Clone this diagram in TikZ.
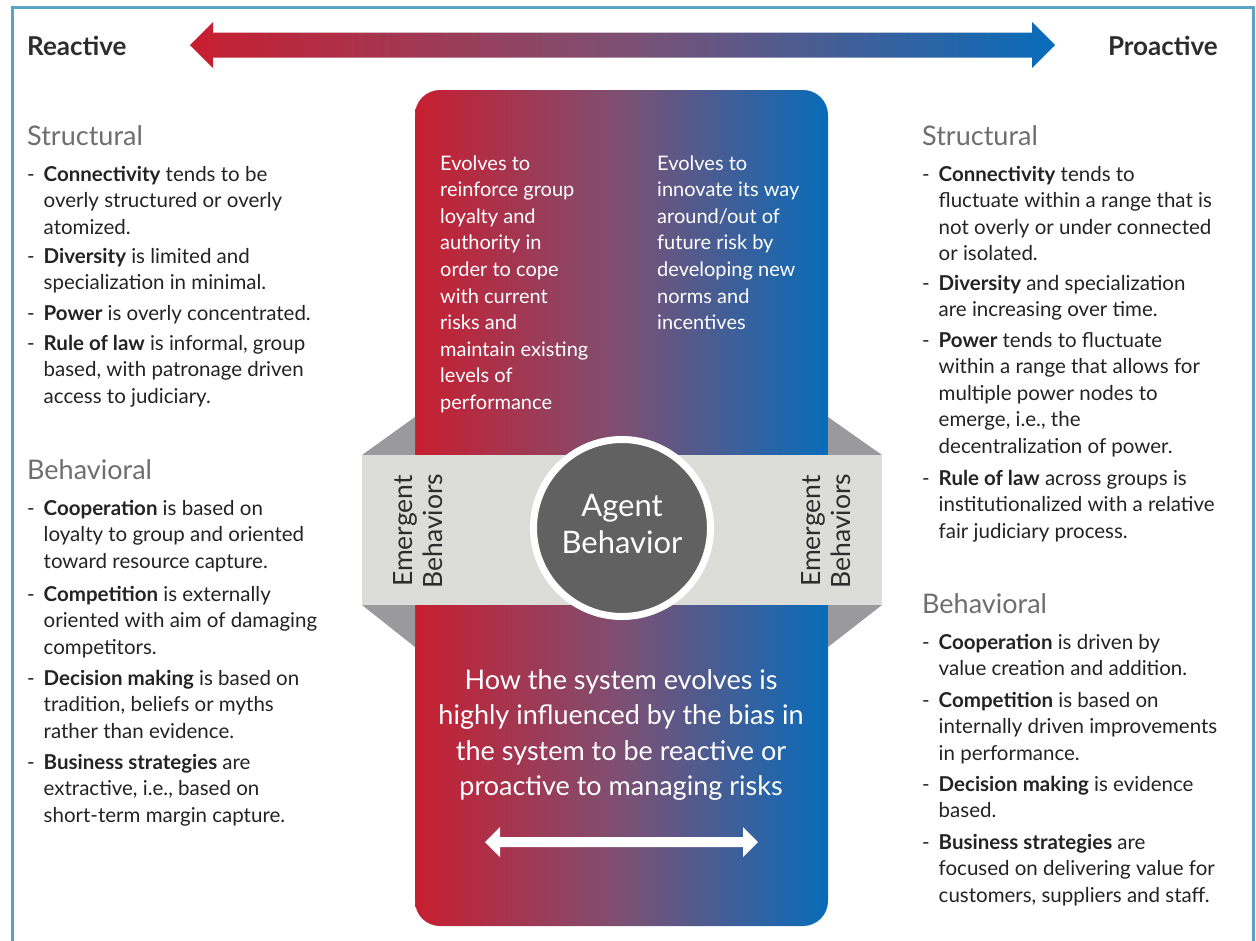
\documentclass[tikz,border=0pt]{standalone}
\usepackage{fontspec}
\setmainfont{Lato}
\definecolor{framecol}{RGB}{90,163,198}
\definecolor{reactred}{RGB}{200,30,48}
\definecolor{problue}{RGB}{8,108,186}
\definecolor{midpurple}{RGB}{125,80,115}
\definecolor{bandgrey}{RGB}{220,220,217}
\definecolor{bevelgrey}{RGB}{154,154,156}
\definecolor{circgrey}{RGB}{97,97,97}
\definecolor{headcol}{RGB}{110,110,110}
\definecolor{bodycol}{RGB}{35,35,35}
\definecolor{titlecol}{RGB}{45,45,45}
\newcommand{\bul}[1]{\begin{tabular}[t]{@{}p{16.5pt}@{}l@{}}-&#1\end{tabular}}
\newcommand{\lines}[1]{\begin{tabular}[t]{@{}l@{}}#1\end{tabular}}
\newcommand{\clines}[1]{\begin{tabular}[t]{@{}c@{}}#1\end{tabular}}
\newcommand{\mlines}[1]{\begin{tabular}{@{}c@{}}#1\end{tabular}}
\begin{document}
\begin{tikzpicture}[x=1pt,y=-1pt,
  title/.style={anchor=base west, inner sep=0, text=titlecol, font=\fontsize{26}{30}\selectfont\bfseries},
  head/.style={anchor=base west, inner sep=0, text=headcol, font=\fontsize{27}{30}\selectfont},
  itm/.style={anchor=base west, inner sep=0, text=bodycol, font=\fontsize{20.5}{26.5}\selectfont},
  ctr/.style={anchor=base west, inner sep=0, text=white, font=\fontsize{20}{26.6}\selectfont},
  emerg/.style={rotate=90, inner sep=0, text=titlecol, font=\fontsize{26.5}{30}\selectfont},
]
\useasboundingbox (0,0) rectangle (1256,940);
\fill[white] (0,0) rectangle (1256,940);
% frame
\draw[framecol, line width=3] (12,945) -- (12,7) -- (1253,7) -- (1253,945);
% top arrow
\shade[left color=reactred, right color=problue, middle color=midpurple]
  (190,45) -- (213,22) -- (213,32.5) -- (1032,32.5) -- (1032,22) -- (1055,45)
  -- (1032,68) -- (1032,57.5) -- (213,57.5) -- (213,68) -- cycle;
\node[title] (reactive) at (27,55) {Reactive};
\node[title, anchor=base east] (proactive) at (1218,55) {Proactive};
% central panel
\shade[rounded corners=25, left color=reactred, right color=problue, middle color=midpurple]
  (415,90) rectangle (828,926);
% bevels
\fill[bevelgrey] (362,455) -- (415,417) -- (415,455) -- cycle;
\fill[bevelgrey] (362,605) -- (415,605) -- (415,647) -- cycle;
\fill[bevelgrey] (828,417) -- (882,455) -- (828,455) -- cycle;
\fill[bevelgrey] (828,605) -- (882,605) -- (828,647) -- cycle;
% band
\fill[bandgrey] (362,455) rectangle (882,605);
\node[emerg] (emL) at (421,531) {\mlines{Emergent\\Behaviors}};
\node[emerg] (emR) at (829,531) {\mlines{Emergent\\Behaviors}};
% circle
\node[circle, fill=circgrey, draw=white, line width=7, minimum size=177, inner sep=0,
  text=white, font=\fontsize{31}{37}\selectfont] (agent) at (622,528) {\mlines{Agent\\Behavior}};
% center texts
\node[ctr] (cl) at (440,170) {\lines{Evolves to\\reinforce group\\loyalty and\\authority in\\order to cope\\with current\\risks and\\maintain existing\\levels of\\performance}};
\node[ctr] (cr) at (657,170) {\lines{Evolves to\\innovate its way\\around/out of\\future risk by\\developing new\\norms and\\incentives}};
\node[anchor=base, inner sep=0, text=white, font=\fontsize{27}{35.5}\selectfont] (bottomtext) at (621,689)
  {\clines{How the system evolves is\\highly influenced by the bias in\\the system to be reactive or\\proactive to managing risks}};
\fill[white] (485,842) -- (500,827) -- (500,837) -- (743,837) -- (743,827) -- (758,842)
  -- (743,857) -- (743,847) -- (500,847) -- (500,857) -- cycle;
% left column
\node[head] (lstruct) at (27,145) {Structural};
\node[itm] (l1) at (27,181) {\bul{\textbf{Connectivity} tends to be\\&overly structured or overly\\&atomized.}};
\node[itm] (l2) at (27,263) {\bul{\textbf{Diversity} is limited and\\&specialization in minimal.}};
\node[itm] (l3) at (27,320) {\bul{\textbf{Power} is overly concentrated.}};
\node[itm] (l4) at (27,350) {\bul{\textbf{Rule of law} is informal, group\\&based, with patronage driven\\&access to judiciary.}};
\node[head] (lbehav) at (27,479) {Behavioral};
\node[itm] (l5) at (27,515) {\bul{\textbf{Cooperation} is based on\\&loyalty to group and oriented\\&toward resource capture.}};
\node[itm] (l6) at (27,601) {\bul{\textbf{Competition} is externally\\&oriented with aim of damaging\\&competitors.}};
\node[itm] (l7) at (27,685) {\bul{\textbf{Decision making} is based on\\&tradition, beliefs or myths\\&rather than evidence.}};
\node[itm] (l8) at (27,769) {\bul{\textbf{Business strategies} are\\&extractive, i.e., based on\\&short-term margin capture.}};
% right column
\node[head] (rstruct) at (922,145) {Structural};
\node[itm] (r1) at (922,181) {\bul{\textbf{Connectivity} tends to\\&fluctuate within a range that is\\&not overly or under connected\\&or isolated.}};
\node[itm] (r2) at (922,290) {\bul{\textbf{Diversity} and specialization\\&are increasing over time.}};
\node[itm] (r3) at (922,347) {\bul{\textbf{Power} tends to fluctuate\\&within a range that allows for\\&multiple power nodes to\\&emerge, i.e., the\\&decentralization of power.}};
\node[itm] (r4) at (922,485) {\bul{\textbf{Rule of law} across groups is\\&institutionalized with a relative\\&fair judiciary process.}};
\node[head] (rbehav) at (922,613) {Behavioral};
\node[itm] (r5) at (922,649) {\bul{\textbf{Cooperation} is driven by\\&value creation and addition.}};
\node[itm] (r6) at (922,707) {\bul{\textbf{Competition} is based on\\&internally driven improvements\\&in performance.}};
\node[itm] (r7) at (922,791) {\bul{\textbf{Decision making} is evidence\\&based.}};
\node[itm] (r8) at (922,849) {\bul{\textbf{Business strategies} are\\&focused on delivering value for\\&customers, suppliers and staff.}};
\end{tikzpicture}
\end{document}
